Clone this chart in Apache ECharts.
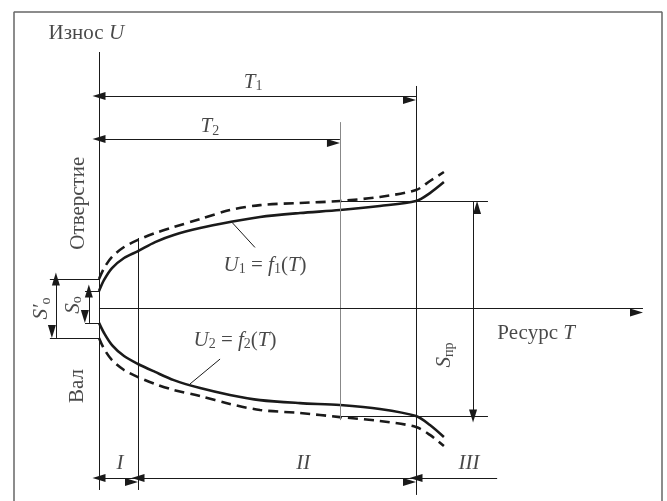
<!DOCTYPE html>
<html>
<head>
<meta charset="utf-8">
<script src="https://cdn.jsdelivr.net/npm/echarts@6/dist/echarts.min.js"></script>
<style>
  html, body { margin: 0; padding: 0; background: #fff; }
  #chart { width: 667px; height: 501px; }
</style>
</head>
<body>
<div id="chart"></div>
<script>
// resource T (T1 = 100) and wear U (S_pr = 100, from -50 to 50)
const curveT = [0, 1.6, 4.1, 7.9, 12.3, 17.7, 23.6, 31.9, 41.3, 50.8, 63.4, 76, 88.6, 100, 104.4, 108.8];
const holeU = [8.1, 13.3, 18.8, 23.5, 26.7, 30.9, 34.2, 37.4, 40.2, 42.6, 44.4, 45.8, 47.7, 50, 53.7, 58.8];
const holeDashU = [13.7, 18.8, 24.0, 28.6, 31.9, 35.1, 37.9, 41.6, 45.8, 48.1, 49.1, 50.0, 51.9, 55.1, 59.3, 63.5];
const shaftU = [-6.7, -11.4, -17.0, -22.1, -25.8, -29.5, -33.3, -37.0, -40.2, -42.6, -44.0, -44.9, -46.7, -50, -54.2, -59.8];
const shaftDashU = [-13.7, -18.8, -24.0, -28.6, -31.9, -35.1, -37.9, -40.7, -44.4, -47.2, -48.6, -50.5, -52.3, -55.1, -58.8, -64.0];

// plain lines [t1, u1, t2, u2]
const plainLines = [
  [0, 119.3, 0, -84.4],
  [100, 103.5, 100, -86.7],
  [12.3, 32.8, 12.3, -84.4],
  [76, 50, 122.7, 50],
  [76, -50, 122.7, -50],
  [-15.5, 13.7, 0, 13.7],
  [-4.4, 8.1, 0, 8.1],
  [-4.4, -6.7, 0, -6.7],
  [-15.5, -13.7, 0, -13.7],
  [42, 40, 49.2, 28.4],
  [28.7, -35.1, 38.2, -23.5]
];
const greyLines = [
  [76, 86.7, 76, -51.9]
];
const frameLines = [
  [-26.8, 138, -26.8, -89.5],
  [-26.8, 138, 177.6, 138],
  [177.6, 138, 177.6, -89.5]
];
// dimension lines with arrows on both ends
const dimLines = [
  [0, 98.8, 100, 98.8],
  [0, 78.8, 76, 78.8],
  [118, -50, 118, 50],
  [-13.6, 13.7, -13.6, -13.7],
  [-3.2, 8.1, -3.2, -6.7],
  [0, -78.8, 12.3, -78.8],
  [12.3, -78.8, 100, -78.8]
];
const axisT = [0, 0, 171.6, 0];
const stageIII = [100, -78.8, 125.6, -78.8];

const labelText = [
  '{n|Износ} {i|U}',
  '{i|T}{sub|1}',
  '{i|T}{sub|2}',
  '{n|Отверстие}',
  '{n|Вал}',
  '{i|S′}{sub|о}',
  '{i|S}{sub|о}',
  '{i|U}{sub|1}{n| = }{i|f}{sub|1}{n|(}{i|T}{n|)}',
  '{i|U}{sub|2}{n| = }{i|f}{sub|2}{n|(}{i|T}{n|)}',
  '{n|Ресурс} {i|T}',
  '{i|S}{sub|пр}',
  '{i|I}',
  '{i|II}',
  '{i|III}'
];
const labelT = [-4, 48.6, 35, -6.6, -6.9, -18, -8.2, 52.4, 42.9, 137.9, 109.1, 6.6, 64.4, 116.7];
const labelU = [128.1, 105, 84.5, 49, -36, 0, 1.6, 20.2, -14.7, -11.4, -21.6, -71.9, -71.9, -71.9];
const labelRotate = [0, 0, 0, 90, 90, 90, 90, 0, 0, 0, 90, 0, 0, 0];

const X_MIN = -31.23, X_MAX = 179.18;
const Y_MIN = -89.53, Y_MAX = 143.49;

const ink = '#1a1a1a';
const font = 'Liberation Serif';

function seg(s, a, b) {
  return [
    { coord: [s[0], s[1]], symbol: a },
    { coord: [s[2], s[3]], symbol: b }
  ];
}

function lineSet(list, color, width, symbol) {
  return {
    type: 'scatter',
    data: [],
    markLine: {
      silent: true,
      symbol: symbol || 'none',
      symbolSize: [8, 13],
      symbolOffset: [0, '50%'],
      label: { show: false },
      lineStyle: { color: color, width: width, type: 'solid' },
      emphasis: { disabled: true },
      data: list
    }
  };
}

function curve(us, dashed) {
  return {
    type: 'line',
    data: curveT.map((t, i) => [t, us[i]]),
    showSymbol: false,
    smooth: 0.3,
    lineStyle: { color: ink, width: 2.6, type: dashed ? [10, 6] : 'solid' }
  };
}

const rich = {
  n: { fontFamily: font, fontSize: 21, color: ink, lineHeight: 22, verticalAlign: 'middle' },
  i: { fontFamily: font, fontSize: 21, fontStyle: 'italic', color: ink, lineHeight: 22, verticalAlign: 'middle' },
  sub: { fontFamily: font, fontSize: 14, color: ink, lineHeight: 22, verticalAlign: 'bottom' }
};

const chart = echarts.init(document.getElementById('chart'));
chart.setOption({
  animation: false,
  grid: { left: 0, right: 0, top: 0, bottom: 0 },
  xAxis: { type: 'value', min: X_MIN, max: X_MAX, show: false },
  yAxis: { type: 'value', min: Y_MIN, max: Y_MAX, show: false },
  series: [
    lineSet(frameLines.map(s => seg(s, 'none', 'none')), '#666', 1.5),
    lineSet(plainLines.map(s => seg(s, 'none', 'none')), ink, 1),
    lineSet(greyLines.map(s => seg(s, 'none', 'none')), '#888', 1),
    lineSet(dimLines.map(s => seg(s, 'triangle', 'triangle')), ink, 1, 'triangle'),
    lineSet([seg(axisT, 'none', 'triangle'), seg(stageIII, 'triangle', 'none')], ink, 1, 'triangle'),
    curve(holeU, false),
    curve(holeDashU, true),
    curve(shaftU, false),
    curve(shaftDashU, true),
    {
      type: 'scatter',
      symbolSize: 0,
      silent: true,
      data: labelText.map((txt, i) => ({
        value: [labelT[i], labelU[i]],
        label: {
          show: true,
          position: 'inside',
          rotate: labelRotate[i],
          formatter: txt,
          fontFamily: font,
          fontSize: 21,
          color: ink,
          rich: rich
        }
      }))
    }
  ]
});
</script>
</body>
</html>
